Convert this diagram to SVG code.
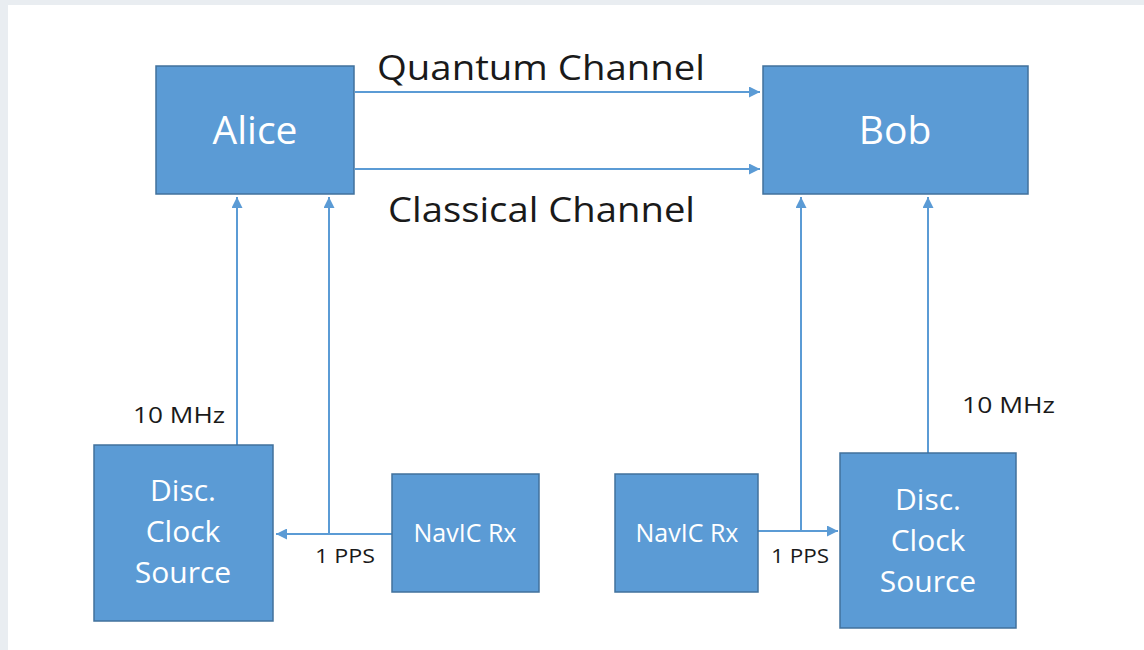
<svg xmlns="http://www.w3.org/2000/svg" width="1144" height="650" viewBox="0 0 1144 650">
  <style>
    .box { fill: #5b9bd5; stroke: #41719c; stroke-width: 1.5; }
    .wt { fill: #ffffff; font-family: "Open Sans", "Liberation Sans", sans-serif; text-anchor: middle; }
    .bt { fill: #1a1a1a; font-family: "Open Sans", "Liberation Sans", sans-serif; }
    .sm { font-weight: 500; }
    .conn { stroke: #5b9bd5; stroke-width: 2; fill: none; }
  </style>
  <defs>
    <marker id="ah" viewBox="0 0 10 10" refX="10" refY="5" markerWidth="5.5" markerHeight="5.5" orient="auto" markerUnits="strokeWidth">
      <path d="M0,0 L10,5 L0,10 Z" fill="#5b9bd5"/>
    </marker>
  </defs>
  <rect x="0" y="0" width="1144" height="650" fill="#e9edf1"/>
  <rect x="8" y="5" width="1136" height="645" fill="#ffffff"/>

  <g id="connectors">
    <line class="conn" x1="355" y1="92" x2="760" y2="92" marker-end="url(#ah)"/>
    <line class="conn" x1="355" y1="169" x2="760" y2="169" marker-end="url(#ah)"/>
    <line class="conn" x1="237" y1="445" x2="237" y2="197" marker-end="url(#ah)"/>
    <line class="conn" x1="329" y1="534" x2="329" y2="197" marker-end="url(#ah)"/>
    <line class="conn" x1="392" y1="534" x2="276" y2="534" marker-end="url(#ah)"/>
    <line class="conn" x1="758" y1="531" x2="838" y2="531" marker-end="url(#ah)"/>
    <line class="conn" x1="801" y1="531" x2="801" y2="197" marker-end="url(#ah)"/>
    <line class="conn" x1="928" y1="453" x2="928" y2="197" marker-end="url(#ah)"/>
  </g>

  <g id="labels">
    <text class="bt" x="377" y="80" font-size="35" textLength="328" lengthAdjust="spacingAndGlyphs">Quantum Channel</text>
    <text class="bt" x="388" y="222" font-size="35" textLength="307" lengthAdjust="spacingAndGlyphs">Classical Channel</text>
    <text class="bt sm" x="133" y="423" font-size="21" textLength="92" lengthAdjust="spacingAndGlyphs">10 MHz</text>
    <text class="bt sm" x="962" y="413" font-size="21" textLength="93" lengthAdjust="spacingAndGlyphs">10 MHz</text>
    <text class="bt sm" x="315" y="563" font-size="20" textLength="60" lengthAdjust="spacingAndGlyphs">1 PPS</text>
    <text class="bt sm" x="771" y="563" font-size="20" textLength="58" lengthAdjust="spacingAndGlyphs">1 PPS</text>
  </g>

  <g id="alice">
    <rect class="box" x="156" y="66" width="198" height="128"/>
    <text class="wt" x="255" y="144" font-size="39">Alice</text>
  </g>
  <g id="bob">
    <rect class="box" x="763" y="66" width="265" height="128"/>
    <text class="wt" x="895" y="144" font-size="39">Bob</text>
  </g>
  <g id="disc-left">
    <rect class="box" x="94" y="445" width="179" height="176"/>
    <text class="wt" x="183" y="501" font-size="30">Disc.</text>
    <text class="wt" x="183" y="542" font-size="30">Clock</text>
    <text class="wt" x="183" y="583" font-size="30">Source</text>
  </g>
  <g id="navic-left">
    <rect class="box" x="392" y="474" width="147" height="118"/>
    <text class="wt" x="465" y="542" font-size="25">NavIC Rx</text>
  </g>
  <g id="navic-right">
    <rect class="box" x="615" y="474" width="143" height="118"/>
    <text class="wt" x="687" y="542" font-size="25">NavIC Rx</text>
  </g>
  <g id="disc-right">
    <rect class="box" x="840" y="453" width="176" height="175"/>
    <text class="wt" x="928" y="510" font-size="30">Disc.</text>
    <text class="wt" x="928" y="551" font-size="30">Clock</text>
    <text class="wt" x="928" y="592" font-size="30">Source</text>
  </g>
</svg>
